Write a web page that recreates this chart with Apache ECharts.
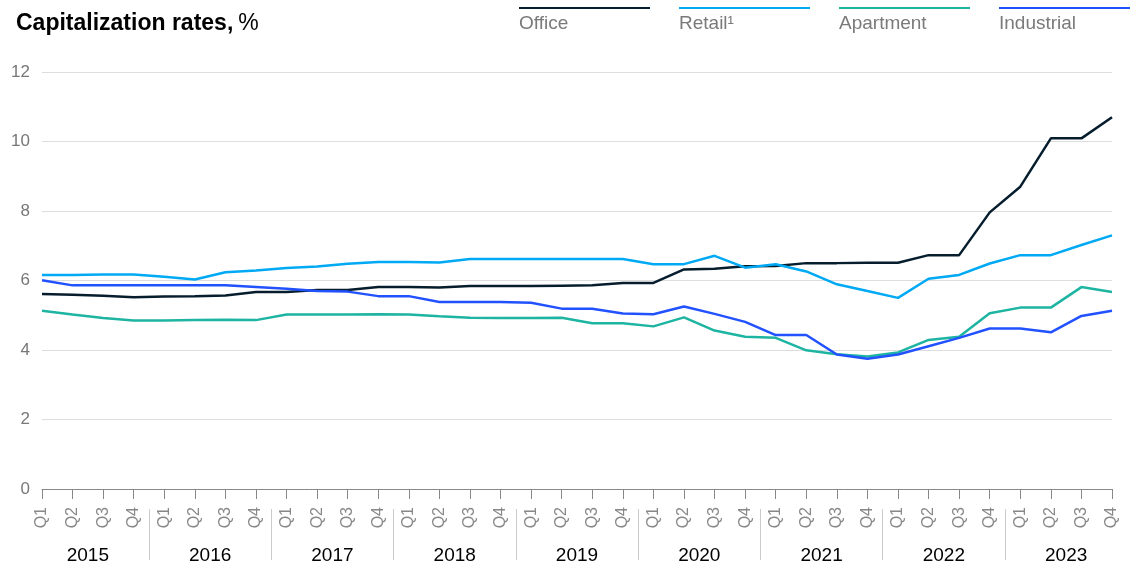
<!DOCTYPE html>
<html>
<head>
<meta charset="utf-8">
<script src="https://cdn.jsdelivr.net/npm/echarts@6/dist/echarts.min.js"></script>
<style>
html,body{margin:0;padding:0;background:#fff;}
#chart{width:1142px;height:565px;}
</style>
</head>
<body>
<div id="chart"></div>
<script>
var quarters = ['Q1','Q2','Q3','Q4'];
var years = ['2015','2016','2017','2018','2019','2020','2021','2022','2023'];
var categories = [];
years.forEach(function(y){ quarters.forEach(function(q){ categories.push(q + ' ' + y); }); });

var seriesNames = ['Office', 'Retail\u00B9', 'Apartment', 'Industrial'];
var seriesColors = ['#061D2D', '#00A9F4', '#1DB4A2', '#2251FF'];

var office = [5.61,5.59,5.56,5.52,5.54,5.55,5.57,5.67,5.67,5.73,5.73,5.81,5.81,5.80,5.84,5.84,5.84,5.85,5.86,5.93,5.93,6.32,6.34,6.41,6.42,6.50,6.50,6.51,6.51,6.73,6.73,7.96,8.70,10.09,10.09,10.70];
var retail = [6.16,6.16,6.17,6.17,6.11,6.03,6.24,6.29,6.36,6.40,6.48,6.53,6.53,6.52,6.62,6.62,6.62,6.62,6.62,6.62,6.47,6.47,6.71,6.37,6.47,6.26,5.89,5.70,5.50,6.05,6.16,6.49,6.73,6.73,7.02,7.30];
var apartment = [5.13,5.02,4.92,4.85,4.85,4.86,4.87,4.86,5.02,5.02,5.02,5.03,5.02,4.97,4.93,4.92,4.92,4.93,4.77,4.77,4.68,4.94,4.56,4.38,4.35,3.99,3.88,3.81,3.93,4.29,4.38,5.06,5.22,5.22,5.81,5.67];
var industrial = [6.01,5.86,5.86,5.86,5.86,5.86,5.86,5.81,5.76,5.70,5.68,5.55,5.55,5.38,5.38,5.38,5.36,5.19,5.19,5.05,5.03,5.25,5.04,4.81,4.43,4.43,3.87,3.75,3.87,4.11,4.35,4.62,4.62,4.51,4.98,5.13];
var seriesData = [office, retail, apartment, industrial];

var yTicks = {min: 0, max: 12, interval: 2};

var FONT = '"Liberation Sans", Arial, sans-serif';
var plotLeft = 42, plotRight = 30;
var half = (1142 - plotLeft - plotRight) / (categories.length - 1) / 2;

var chart = echarts.init(document.getElementById('chart'));

var legendGraphics = [];
seriesNames.forEach(function(n, i){
  var x0 = 519 + i * 160;
  legendGraphics.push({type:'rect', left: x0, top: 7, shape:{width:131, height:2}, style:{fill: seriesColors[i]}, silent:true});
  legendGraphics.push({type:'text', left: x0, top: 14, style:{text: n, fill:'#7a7a7a', font: '19px ' + FONT}, silent:true});
});

var option = {
  backgroundColor: '#fff',
  animation: false,
  title: {
    left: 11, top: 7,
    text: '{b|Capitalization rates,} {r|%}',
    textStyle: {
      rich: {
        b: {fontFamily: FONT, fontWeight: 'bold', fontSize: 23, color: '#000'},
        r: {fontFamily: FONT, fontWeight: 'normal', fontSize: 23, color: '#000'}
      }
    }
  },
  graphic: legendGraphics,
  grid: [
    {left: plotLeft, right: plotRight, top: 72, bottom: 76, containLabel: false},
    {left: plotLeft - half, right: plotRight - half, top: 509, height: 51, containLabel: false}
  ],
  xAxis: [
    {
      type: 'category', gridIndex: 0, boundaryGap: false, data: categories,
      axisLine: {show: true, lineStyle: {color: '#888', width: 1}},
      axisTick: {show: true, length: 10, interval: 0, lineStyle: {color: '#888'}},
      axisLabel: {
        interval: 0, rotate: 90, margin: 18, color: '#888', fontSize: 16, fontFamily: FONT,
        formatter: function(v){ return v.split(' ')[0]; }
      },
      splitLine: {show: false}
    },
    {
      type: 'category', gridIndex: 1, boundaryGap: true, data: years, position: 'bottom',
      axisLine: {show: false}, axisTick: {show: false},
      axisLabel: {interval: 0, margin: -14, color: '#000', fontSize: 19, fontFamily: FONT},
      splitLine: {show: true, interval: 0, showMinLine: false, showMaxLine: false, lineStyle: {color: '#ccc', width: 1}}
    }
  ],
  yAxis: [
    {
      type: 'value', gridIndex: 0, min: yTicks.min, max: yTicks.max, interval: yTicks.interval,
      axisLine: {show: false}, axisTick: {show: false},
      axisLabel: {margin: 12, color: '#777', fontSize: 17, fontFamily: FONT},
      splitLine: {show: true, lineStyle: {color: '#ddd', width: 1}}
    },
    {type: 'value', gridIndex: 1, show: false}
  ],
  series: seriesNames.map(function(n, i){
    return {
      name: n, type: 'line', xAxisIndex: 0, yAxisIndex: 0,
      data: seriesData[i], symbol: 'none', smooth: false,
      lineStyle: {color: seriesColors[i], width: 2.5},
      itemStyle: {color: seriesColors[i]}
    };
  })
};
chart.setOption(option);
</script>
</body>
</html>
